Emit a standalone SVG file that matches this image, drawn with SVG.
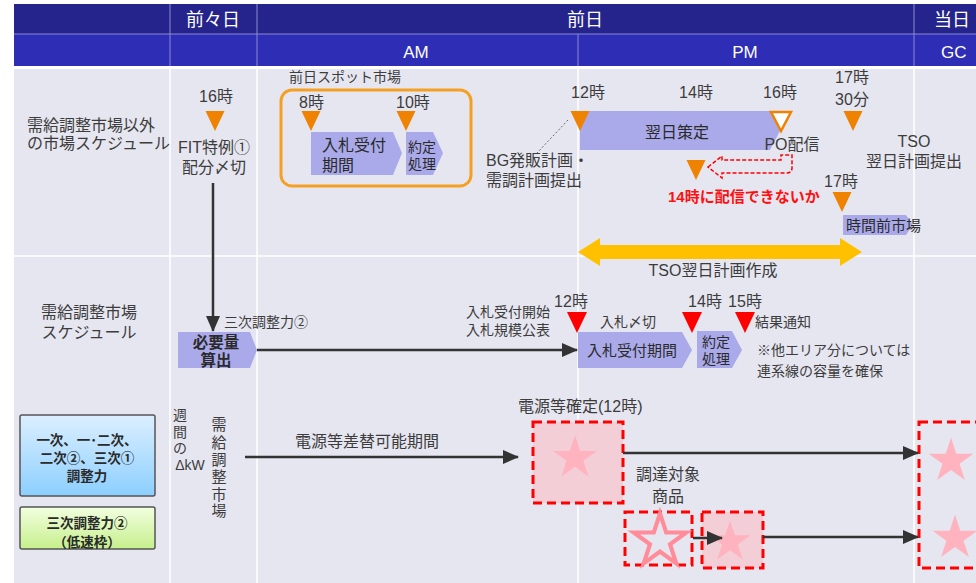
<svg xmlns="http://www.w3.org/2000/svg" width="976" height="583" viewBox="0 0 976 583">
<style>
text{font-family:"Liberation Sans","Noto Sans CJK JP",sans-serif;fill:#3c3c3c;font-size:15px}
.hd{fill:#fff;font-size:18px}
.hd2{fill:#fff;font-size:17px}
.c{text-anchor:middle}
.s14{font-size:14px}
.s16{font-size:16px}
.dk{fill:#2a2a2a}
.b{font-weight:bold}
.red{fill:#ff1010;font-weight:bold}
.pent{fill:#aaaaea}
.sep{stroke:#fff;stroke-width:1.5}
.hsep{stroke:#8a8ad0;stroke-width:1}
.line{stroke:#333;stroke-width:2.5;fill:none}
.dash{stroke:#ff0000;stroke-width:3;stroke-dasharray:9 5}
.pk{fill:#f3ced7}
.bx{font-size:13.5px;font-weight:bold;fill:#2a2a2a;text-anchor:middle}
</style>
<defs>
<marker id="ah" markerUnits="userSpaceOnUse" markerWidth="16" markerHeight="16" refX="15" refY="8" orient="auto">
<path d="M0,1 L16,8 L0,15 Z" fill="#333"/>
</marker>
<path id="otri" d="M-9.5,0 L9.5,0 L0,20 Z" fill="#ef8200"/>
<path id="rtri" d="M-10,0 L10,0 L0,21 Z" fill="#ff0000"/>
<polygon id="star" points="0,-20 4.49,-6.18 19.02,-6.18 7.27,2.36 11.76,16.18 0,7.64 -11.76,16.18 -7.27,2.36 -19.02,-6.18 -4.49,-6.18"/>
<linearGradient id="gb" x1="0" y1="0" x2="0" y2="1"><stop offset="0" stop-color="#dcefff"/><stop offset="1" stop-color="#8ccfff"/></linearGradient>
<linearGradient id="gg" x1="0" y1="0" x2="0" y2="1"><stop offset="0" stop-color="#f2ffe0"/><stop offset="1" stop-color="#c6ef8c"/></linearGradient>
</defs>

<g id="header">
<rect x="14" y="4" width="962" height="30" fill="#24248c"/>
<rect x="14" y="34" width="962" height="32" fill="#2d2db6"/>
<line class="hsep" x1="14" y1="34" x2="976" y2="34"/>
<line class="hsep" x1="170" y1="4" x2="170" y2="66"/>
<line class="hsep" x1="914" y1="4" x2="914" y2="66"/>
<line class="hsep" x1="257" y1="4" x2="257" y2="66"/>
<line class="hsep" x1="578" y1="34" x2="578" y2="66"/>
<text class="hd c" x="213" y="26">前々日</text>
<text class="hd c" x="585" y="26">前日</text>
<text class="hd" x="934" y="26">当日</text>
<text class="hd2 c" x="416" y="58">AM</text>
<text class="hd2 c" x="745" y="58">PM</text>
<text class="hd2" x="941" y="58">GC</text>
</g>

<g id="body">
<rect x="14" y="69" width="962" height="514" fill="#e6e6f0"/>
<line class="sep" x1="170" y1="69" x2="170" y2="583"/>
<line class="sep" x1="257" y1="69" x2="257" y2="583"/>
<line class="sep" x1="578" y1="69" x2="578" y2="583"/>
<line class="sep" x1="914" y1="69" x2="914" y2="583"/>
<line class="sep" x1="14" y1="256" x2="976" y2="256"/>
</g>

<g id="row-labels">
<text class="s16"><tspan x="27" y="131">需給調整市場以外</tspan><tspan x="27" y="149">の市場スケジュール</tspan></text>
<text class="s16 c"><tspan x="89" y="318">需給調整市場</tspan><tspan x="89" y="338">スケジュール</tspan></text>
</g>

<g id="fit">
<text class="s16 c" x="216" y="102">16時</text>
<use href="#otri" x="215" y="111"/>
<text class="s16 c"><tspan x="214" y="153">FIT特例①</tspan><tspan x="214" y="173">配分〆切</tspan></text>
</g>

<g id="spot">
<text class="s14" x="289" y="82">前日スポット市場</text>
<rect x="281" y="90" width="190" height="96" rx="11" fill="none" stroke="#f5a023" stroke-width="3"/>
<text class="s16" x="299" y="108">8時</text>
<text class="s16" x="396" y="108">10時</text>
<path class="pent" d="M311,132 H393 L402,153 L393,175 H311 Z"/>
<path class="pent" d="M406,132 H433 L443,153 L433,175 H406 Z"/>
<use href="#otri" x="311" y="111"/>
<use href="#otri" x="406" y="111"/>
<text class="s16 dk"><tspan x="322" y="151">入札受付</tspan><tspan x="322" y="171">期間</tspan></text>
<text class="s14 dk"><tspan x="408" y="152">約定</tspan><tspan x="408" y="169">処理</tspan></text>
</g>

<g id="pm-plan">
<text class="s16 c" x="588" y="98">12時</text>
<text class="s16 c" x="696" y="98">14時</text>
<text class="s16 c" x="780" y="98">16時</text>
<path class="pent" d="M580,111 H770 L780,131 L770,150 H580 Z"/>
<use href="#otri" x="580" y="111"/>
<text class="s16 dk c" x="677" y="138">翌日策定</text>
<path d="M771,112 L791,112 L781,131 Z" fill="#fff" stroke="#ef8200" stroke-width="2.5"/>
<text class="s16 c" x="792" y="150">PO配信</text>
<line x1="568" y1="120" x2="537" y2="153" stroke="#666" stroke-width="1" stroke-dasharray="2 2"/>
<text class="s16"><tspan x="486" y="166">BG発販計画・</tspan><tspan x="486" y="186">需調計画提出</tspan></text>
<use href="#otri" x="696" y="160"/>
<path d="M708,167 L722,156 L722,160 L781,160 L781,155 L792,155 L792,168 Q792,173 786,173 L722,173 L722,178 Z" fill="none" stroke="#ff0000" stroke-width="1.5" stroke-dasharray="4 2"/>
<text class="red" x="668" y="202">14時に配信できないか</text>
</g>

<g id="tso">
<text class="s16 c"><tspan x="852" y="83">17時</tspan><tspan x="852" y="105">30分</tspan></text>
<use href="#otri" x="853" y="111"/>
<text class="s16 c"><tspan x="914" y="147">TSO</tspan><tspan x="914" y="167">翌日計画提出</tspan></text>
</g>

<g id="intraday">
<text class="s16 c" x="841" y="187">17時</text>
<use href="#otri" x="842" y="192"/>
<path class="pent" d="M843,215 H906 L913,225 L906,235 H843 Z"/>
<text class="dk" x="846" y="231">時間前市場</text>
</g>

<g id="tso-plan">
<polygon points="578,252 600,238 600,245 840,245 840,238 862,252 840,266 840,259 600,259 600,266" fill="#ffc000"/>
<text class="s16 c" x="713" y="276">TSO翌日計画作成</text>
</g>

<g id="need">
<text class="s14" x="224" y="327">三次調整力②</text>
<path class="pent" d="M178,332 H250 L257,350 L250,368 H178 Z"/>
<text class="dk c b" style="font-size:15.5px"><tspan x="216" y="348">必要量</tspan><tspan x="216" y="366">算出</tspan></text>
</g>

<g id="bid">
<text class="s14"><tspan x="466" y="317">入札受付開始</tspan><tspan x="466" y="335">入札規模公表</tspan></text>
<text class="s16 c" x="571" y="307">12時</text>
<text class="s16 c" x="705" y="307">14時</text>
<text class="s16 c" x="745" y="307">15時</text>
<use href="#rtri" x="577" y="312"/>
<use href="#rtri" x="692" y="312"/>
<use href="#rtri" x="745" y="312"/>
<text class="s14" x="600" y="327">入札〆切</text>
<text class="s14" x="755" y="327">結果通知</text>
<path class="pent" d="M578,332 H682 L692,350 L682,368 H578 Z"/>
<text class="dk c" x="632" y="356">入札受付期間</text>
<path class="pent" d="M697,331 H732 L742,350 L732,368 H697 Z"/>
<text class="s14 dk"><tspan x="702" y="347">約定</tspan><tspan x="702" y="364">処理</tspan></text>
<text class="s14"><tspan x="757" y="355">※他エリア分については</tspan><tspan x="757" y="376">連系線の容量を確保</tspan></text>
</g>

<g id="product-boxes">
<rect x="20" y="415" width="135" height="81" rx="2" fill="url(#gb)" stroke="#555" stroke-width="1.5"/>
<text class="bx"><tspan x="87" y="445">一次、一･二次、</tspan><tspan x="87" y="463">二次②、三次①</tspan><tspan x="87" y="481">調整力</tspan></text>
<rect x="20" y="507" width="135" height="42" rx="2" fill="url(#gg)" stroke="#555" stroke-width="1.5"/>
<text class="bx"><tspan x="87" y="528">三次調整力②</tspan><tspan x="87" y="547">（低速枠）</tspan></text>
</g>

<g id="weekly">
<text class="c s14"><tspan x="180" y="420">週</tspan><tspan x="180" y="437">間</tspan><tspan x="180" y="453">の</tspan><tspan x="190" y="470">ΔkW</tspan></text>
<text class="c"><tspan x="219" y="430">需</tspan><tspan x="219" y="448">給</tspan><tspan x="219" y="465">調</tspan><tspan x="219" y="482">整</tspan><tspan x="219" y="500">市</tspan><tspan x="219" y="516">場</tspan></text>
<text class="s16" x="295" y="447">電源等差替可能期間</text>
</g>

<g id="fixed">
<text class="s16" x="518" y="412">電源等確定(12時)</text>
<rect class="pk" x="533" y="422" width="90" height="81"/>
<use href="#star" fill="#ffb3bf" transform="translate(575,458) scale(1.15)"/>
<rect class="dash" fill="none" x="533" y="422" width="90" height="81"/>
<text class="s16 c"><tspan x="668" y="480">調達対象</tspan><tspan x="668" y="502">商品</tspan></text>
<rect class="dash" fill="none" x="625" y="512" width="67" height="53"/>
<use href="#star" fill="none" stroke="#ff8c98" stroke-width="3" transform="translate(660,541) scale(1.38)"/>
<rect class="pk" x="702" y="512" width="61" height="56"/>
<use href="#star" fill="#ffb3bf" transform="translate(730,542) scale(1.08)"/>
<rect class="dash" fill="none" x="702" y="512" width="61" height="56"/>
<rect class="dash" fill="none" x="919" y="422" width="80" height="146"/>
<use href="#star" fill="#ffb3bf" transform="translate(951,461) scale(1.18)"/>
<use href="#star" fill="#ffb3bf" transform="translate(955,538) scale(1.18)"/>
</g>

<g id="connectors">
<line class="line" x1="213" y1="183" x2="213" y2="331" marker-end="url(#ah)"/>
<line class="line" x1="257" y1="350" x2="577" y2="350" marker-end="url(#ah)"/>
<line class="line" x1="245" y1="457" x2="518" y2="457" marker-end="url(#ah)"/>
<line class="line" x1="623" y1="453" x2="918" y2="453" marker-end="url(#ah)"/>
<line class="line" x1="693" y1="538" x2="722" y2="538" marker-end="url(#ah)"/>
<line class="line" x1="763" y1="537" x2="918" y2="537" marker-end="url(#ah)"/>
</g>
</svg>
